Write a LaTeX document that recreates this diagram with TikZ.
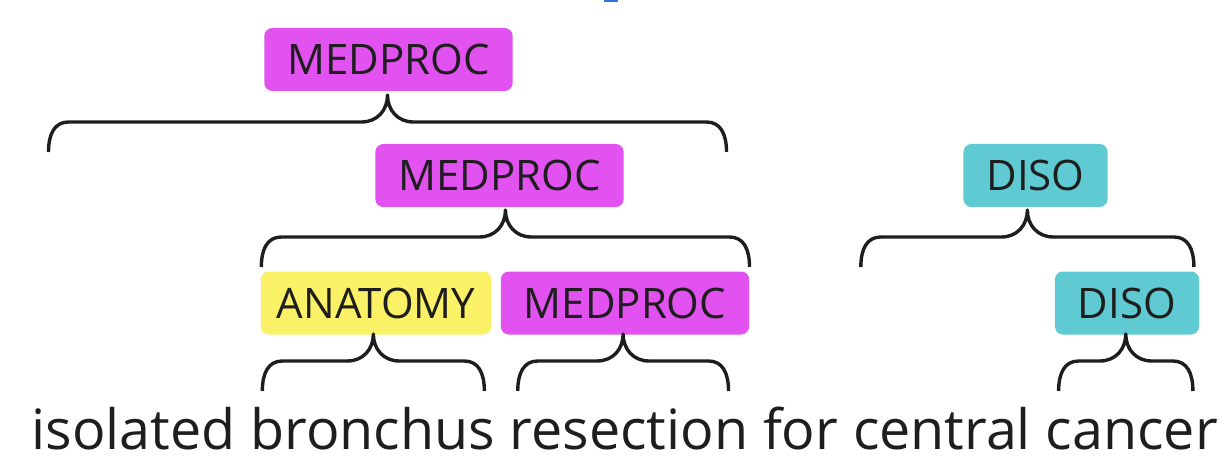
\documentclass[tikz,border=0pt]{standalone}
\usepackage{fontspec}
\setmainfont{Open Sans}
\usepackage{tikz}
\usetikzlibrary{calc,positioning}
\definecolor{procpink}{RGB}{226,82,240}
\definecolor{anatyellow}{RGB}{250,241,102}
\definecolor{disoteal}{RGB}{96,202,210}
\definecolor{inkdark}{RGB}{30,30,30}
\definecolor{markblue}{RGB}{50,115,225}
\tikzset{
  spanbrace/.style={
    draw=inkdark,
    line width=3.4pt,
    line join=round,
    to path={let \p1=(\tikztostart), \p2=(\tikztotarget),
      \p3=($(\tikztostart)!0.5!(\tikztotarget)$) in
      .. controls (\x1,\y1+18pt) and (\x1+6pt,\y1+30pt) .. (\x1+20pt,\y1+30pt)
      -- (\x3-26pt,\y1+30pt)
      .. controls (\x3-10pt,\y1+30pt) and (\x3,\y1+42pt) .. (\x3,\y1+57pt)
      .. controls (\x3,\y1+42pt) and (\x3+10pt,\y1+30pt) .. (\x3+26pt,\y1+30pt)
      -- (\x2-20pt,\y1+30pt)
      .. controls (\x2-6pt,\y1+30pt) and (\x2,\y1+18pt) .. (\x2,\y2)}
  },
  tagbox/.style={
    rounded corners=8pt,
    minimum height=63pt,
    inner xsep=23pt,
    inner ysep=0pt,
    text height=30pt,
    text depth=0pt,
    text=inkdark,
    font=\fontsize{42}{44}\selectfont
  },
  pinkbox/.style={tagbox, fill=procpink},
  yellowbox/.style={tagbox, fill=anatyellow},
  tealbox/.style={tagbox, fill=disoteal},
  word/.style={
    inner sep=0pt,
    text=inkdark,
    text height=44pt,
    text depth=12pt,
    font=\fontsize{55.6}{60}\selectfont
  }
}
\begin{document}
\begin{tikzpicture}[x=1pt,y=1pt]
  \useasboundingbox (0,0) rectangle (1224,472);
  \fill[markblue] (604,469.5) rectangle (618,472);

  % sentence
  \node[word,anchor=base west] (isolated) at (31.5,23) {isolated};
  \node[word,base right=14.4pt of isolated] (bronchus) {bronchus};
  \node[word,base right=14.4pt of bronchus] (resection) {resection};
  \node[word,base right=14.4pt of resection] (for) {for};
  \node[word,base right=14.4pt of for] (central) {central};
  \node[word,base right=14.4pt of central] (cancer) {cancer};

  \coordinate (lvl1) at (0,81);
  \coordinate (lvl2) at (0,205);
  \coordinate (lvl3) at (0,320);

  % tags
  \node[yellowbox,inner xsep=16pt] (anatomy) at (376,169) {ANATOMY};
  \node[pinkbox] (medproc1) at (625,169) {MEDPROC};
  \node[tealbox] (diso1) at (1127,169) {DISO};
  \node[pinkbox] (medproc2) at (499.5,296.5) {MEDPROC};
  \node[tealbox] (diso2) at (1035.5,296.5) {DISO};
  \node[pinkbox] (medproc3) at (388.5,412.5) {MEDPROC};

  % braces
  \draw[spanbrace] ($(bronchus.west |- lvl1)+(12,0)$) to ($(bronchus.east |- lvl1)+(-11,0)$);
  \draw[spanbrace] ($(resection.west |- lvl1)+(8,0)$) to ($(resection.east |- lvl1)+(-20,0)$);
  \draw[spanbrace] ($(cancer.west |- lvl1)+(13,0)$) to ($(cancer.east |- lvl1)+(-25,0)$);
  \draw[spanbrace] ($(bronchus.west |- lvl2)+(11,0)$) to ($(resection.east |- lvl2)+(1,0)$);
  \draw[spanbrace] ($(central.west |- lvl2)+(8,0)$) to ($(cancer.east |- lvl2)+(-24,0)$);
  \draw[spanbrace] ($(isolated.west |- lvl3)+(17,0)$) to ($(resection.east |- lvl3)+(-22,0)$);
\end{tikzpicture}
\end{document}
